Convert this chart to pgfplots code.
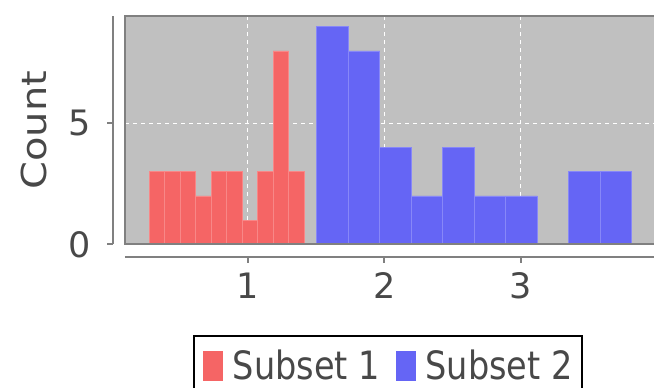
\documentclass[border=0pt]{standalone}
\usepackage{pgfplots}
\pgfplotsset{compat=1.18}
\usepackage{fontspec}
\setmainfont{DejaVu Sans}
\newfontfamily\legfont[FakeStretch=0.86]{DejaVu Sans}
\definecolor{plotbg}{RGB}{192,192,192}
\definecolor{axisgray}{RGB}{128,128,128}
\definecolor{redbar}{RGB}{245,101,101}
\definecolor{rededge}{RGB}{248,135,135}
\definecolor{bluebar}{RGB}{101,101,245}
\definecolor{blueedge}{RGB}{135,135,248}
\definecolor{textgray}{RGB}{72,72,72}
\begin{document}
\begin{tikzpicture}
\begin{axis}[
  name=ax,
  scale only axis, width=531pt, height=228.4pt,
  xmin=0.1, xmax=3.99, ymin=0, ymax=9.45,
  clip=false,
  axis x line=bottom, axis y line=left,
  axis x line shift=12.4pt, axis y line shift=11.6pt,
  axis line style={-, draw=axisgray, line width=2pt},
  axis background/.style={fill=plotbg},
  xtick={1,2,3}, ytick={0,5},
  tick align=outside, major tick length=6pt,
  tick style={draw=axisgray, line width=2pt},
  grid=major,
  major grid style={draw=white, line width=1.2pt, dash pattern=on 4pt off 4pt},
  /pgf/number format/assume math mode=true,
  tick label style={font=\fontsize{35}{40}\selectfont, text=textgray, inner sep=0pt},
  xticklabel shift=10pt, yticklabel shift=16pt,
  ylabel={\scalebox{1}[0.86]{Count}},
  ylabel style={font=\fontsize{40}{46}\selectfont, text=textgray, at={(axis description cs:-0.1721,0.5)}, anchor=center},
  legend columns=2,
  legend style={at={(axis description cs:0.4955,-0.3971)}, anchor=north,
    draw=black, line width=2pt, fill=white, text=textgray,
    font=\legfont\fontsize{39}{45}\selectfont,
    inner xsep=9pt, inner ysep=14pt,
    nodes={inner sep=0pt},
    /tikz/every odd column/.append style={column sep=10pt},
    /tikz/every even column/.append style={column sep=16pt}},
  after end axis/.code={\draw[axisgray, line width=2pt] (rel axis cs:0,0) rectangle (rel axis cs:1,1);},
]
\addplot[ybar, bar width=0.11355, bar shift=0pt, fill=redbar, draw=rededge, line width=0.6pt,
  legend image code/.code={\fill[redbar] (0pt,-14.5pt) rectangle (19pt,14.5pt);}]
coordinates {
(0.3337,3) (0.4472,3) (0.5608,3) (0.6743,2) (0.7879,3)
(0.9014,3) (1.0150,1) (1.1285,3) (1.2421,8) (1.3556,3)
};
\addlegendentry{Subset 1}
\addplot[ybar, bar width=0.23077, bar shift=0pt, fill=bluebar, draw=blueedge, line width=0.6pt,
  legend image code/.code={\fill[bluebar] (0pt,-14.5pt) rectangle (19pt,14.5pt);}]
coordinates {
(1.6209,9) (1.8517,8) (2.0824,4) (2.3132,2) (2.5440,4)
(2.7747,2) (3.0055,2) (3.4670,3) (3.6978,3)
};
\addlegendentry{Subset 2}
\end{axis}
\pgfresetboundingbox
\path[use as bounding box] (ax.south west) ++(-124.9pt,-143.7pt) rectangle ++(654pt,388pt);
\end{tikzpicture}
\end{document}
